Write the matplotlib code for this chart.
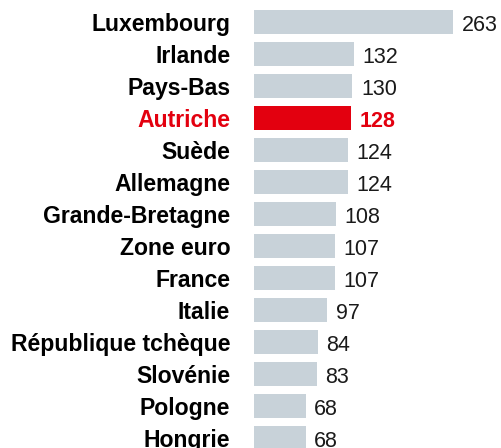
import matplotlib.pyplot as plt

pays = ["Luxembourg", "Irlande", "Pays-Bas", "Autriche", "Suède", "Allemagne",
        "Grande-Bretagne", "Zone euro", "France", "Italie", "République tchèque",
        "Slovénie", "Pologne", "Hongrie"]
valeurs = [263, 132, 130, 128, 124, 124, 108, 107, 107, 97, 84, 83, 68, 68]
highlight = "Autriche"

gris = "#c8d2d9"
rouge = "#e3000f"

plt.rcParams['font.family'] = ['Liberation Sans', 'DejaVu Sans']

fig = plt.figure(figsize=(5.01, 4.48), dpi=100)
# axes start at the bar origin (x=254px) and fill the full height
ax = fig.add_axes([254 / 501, 0, 1 - 254 / 501, 1])
ax.set_xlim(0, 326)
ax.set_ylim(13.3125, -0.6875)
ax.axis('off')

pos = list(range(len(pays)))
couleurs = [rouge if p == highlight else gris for p in pays]
ax.barh(pos, valeurs, height=0.77, color=couleurs)

for y, p, v in zip(pos, pays, valeurs):
    hl = p == highlight
    c = rouge if hl else "black"
    ax.text(-31.5, y + 0.27, p, ha='right', va='baseline', fontsize=16.6,
            fontweight='bold', color=c, clip_on=False)
    ax.text(v + 11.5, y + 0.27, str(v), ha='left', va='baseline', fontsize=15.5,
            fontweight='bold' if hl else 'normal', color=rouge if hl else "#1a1a1a",
            clip_on=False)

fig.savefig("out.png", dpi=100)
